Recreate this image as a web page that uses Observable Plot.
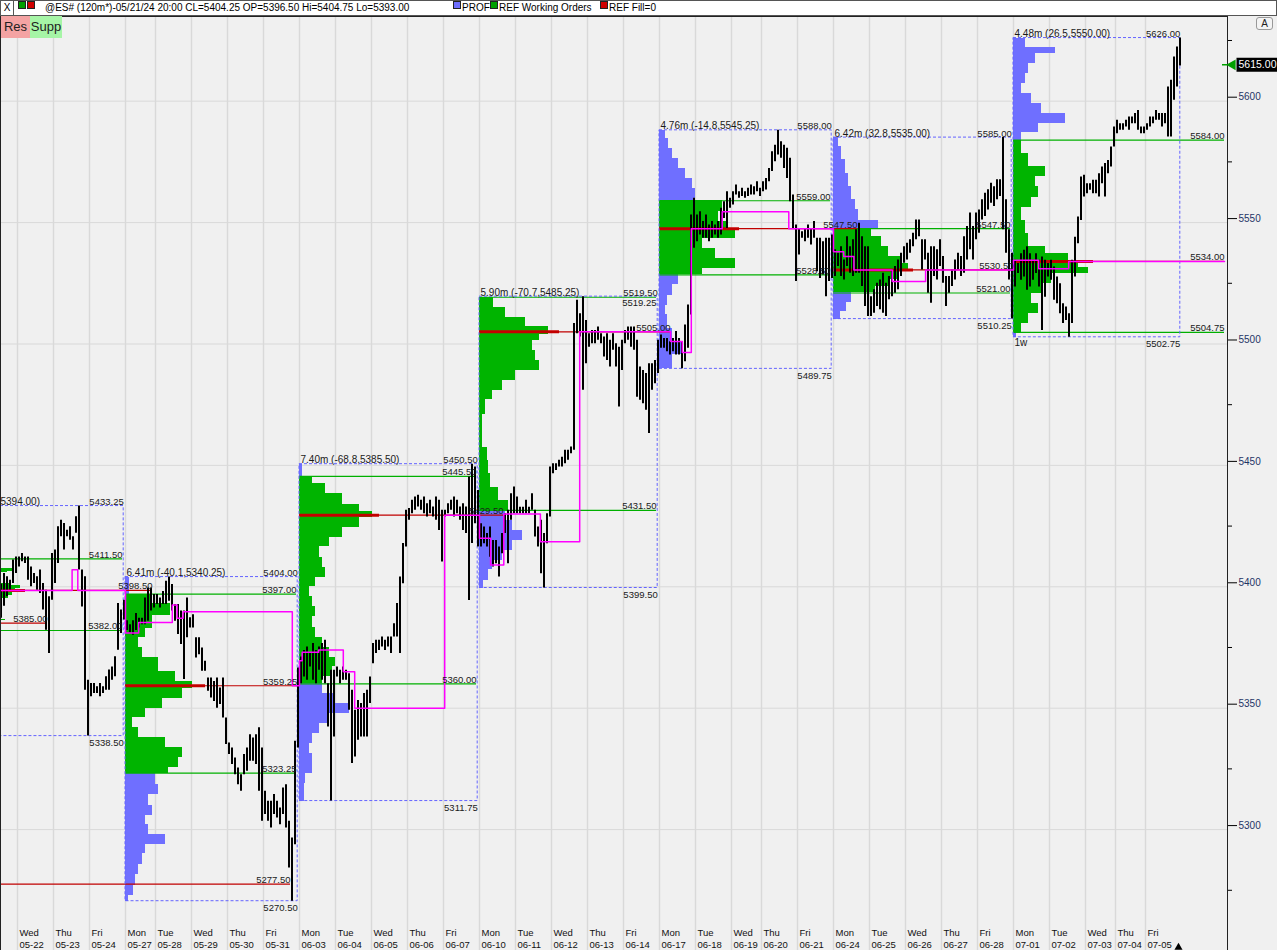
<!DOCTYPE html>
<html>
<head>
<meta charset="utf-8">
<script src="https://cdn.jsdelivr.net/npm/d3@7"></script>
<script src="https://cdn.jsdelivr.net/npm/@observablehq/plot@0.6"></script>
<style>
html,body{margin:0;padding:0;background:#f0f0f0;}
#root{position:relative;width:1277px;height:950px;overflow:hidden;background:#f0f0f0;font-family:"Liberation Sans",Arial,sans-serif;}
#bar{position:absolute;left:0;top:0;width:1275px;height:14px;background:#fff;border:1px solid #555;font-size:10px;line-height:14px;color:#000;white-space:nowrap;}
#bar span{position:absolute;top:0}
.sq{position:absolute;top:3px;width:6px;height:6px;border:1px solid #222}
#chart{position:absolute;left:0;top:16px}
.btn{position:absolute;top:16px;height:22px;line-height:22px;font-size:13px;color:#222;text-align:center}
#abtn{position:absolute;left:1256px;top:17px;width:15px;height:11px;border:1px solid #999;border-radius:3px;font-size:10px;line-height:11px;text-align:center;color:#222;background:#f4f4f4}
</style>
</head>
<body>
<div id="root">
  <div id="bar">
    <span style="left:0;width:12px;height:14px;border-right:1px solid #555;text-align:center">X</span>
    <span class="sq" style="left:17px;background:#00a000"></span>
    <span class="sq" style="left:26px;background:#d00000"></span>
    <span style="left:44px">@ES# (120m*)-05/21/24 20:00 CL=5404.25 OP=5396.50 Hi=5404.75 Lo=5393.00</span>
    <span class="sq" style="left:452px;background:#6f6fff"></span>
    <span style="left:461px">PROF</span>
    <span class="sq" style="left:489px;background:#00a000"></span>
    <span style="left:498px">REF Working Orders</span>
    <span class="sq" style="left:599px;background:#d00000"></span>
    <span style="left:608px">REF Fill=0</span>
  </div>
  <div id="chart"></div>
  <div class="btn" style="left:1px;width:29px;background:#f4a3a3">Res</div>
  <div class="btn" style="left:30px;width:32px;background:#a6f5a6">Supp</div>
  <div id="abtn">A</div>
</div>
<script>
// ---------- calendar (120-minute bars per session) ----------
const dayNames = ["Mon\n05-20","Tue\n05-21","Wed\n05-22","Thu\n05-23","Fri\n05-24",
"Mon\n05-27","Tue\n05-28","Wed\n05-29","Thu\n05-30","Fri\n05-31",
"Mon\n06-03","Tue\n06-04","Wed\n06-05","Thu\n06-06","Fri\n06-07",
"Mon\n06-10","Tue\n06-11","Wed\n06-12","Thu\n06-13","Fri\n06-14",
"Mon\n06-17","Tue\n06-18","Wed\n06-19","Thu\n06-20","Fri\n06-21",
"Mon\n06-24","Tue\n06-25","Wed\n06-26","Thu\n06-27","Fri\n06-28",
"Mon\n07-01","Tue\n07-02","Wed\n07-03","Thu\n07-04","Fri\n07-05"];
const dayBarCount = [12,12,12,12,12, 10,12,12,12,12, 12,12,12,12,12, 12,12,12,12,12,
                     12,12,10,12,12, 12,12,12,12,12, 12,12,10,10,12];

// ---------- price bars [low, high] per 120m bar, one array per session ----------
const hlW0 = [
 [],
 [[5387,5401],[5392,5405.5],[5395.9,5404.1],[5398.6,5402.7],[5401.4,5411],[5405.5,5412.3]],
 [[5408.2,5412.3],[5410.3,5413.7],[5409.6,5412.3],[5402.7,5412.3],[5400,5408.2],[5401.4,5405.5],[5398.6,5404.1],[5397.2,5406.9],[5390.4,5401.4],[5382.1,5398.6],[5372.5,5395.9],[5394.5,5413.7]],
 [[5401.4,5415.1],[5409.6,5424.7],[5420.6,5427.4],[5415.1,5426.1],[5420.6,5423.3],[5419.2,5424.7],[5415.1,5420.6],[5422,5428.8],[5406.9,5433.25],[5391.7,5406.9],[5357.4,5404.1],[5338.5,5361.5]],
 [[5354.7,5360.2],[5356,5360.2],[5356,5358.8],[5354.7,5360.2],[5356,5358.8],[5357.4,5362.9],[5357.4,5365.7],[5361.5,5367],[5362.9,5371.2],[5373.9,5393.1],[5380.8,5390.4],[5386.3,5394.5]]
];
const hlW1 = [
 [[5382,5386],[5381,5384.4],[5380,5386],[5382,5389],[5383,5387],[5384.4,5387],[5384.4,5395.4],[5385.8,5399.5],[5390,5399.5],[5391.3,5396.8]],
 [[5392.7,5396.8],[5391.3,5395.4],[5392.7,5398.1],[5392.7,5402.3],[5394,5404],[5390,5400.9],[5385.8,5392.7],[5380.3,5392.7],[5376.2,5390],[5361.8,5390],[5379,5395.4],[5383,5387.2]],
 [[5383,5388.5],[5370.7,5379],[5372,5379],[5365.2,5374.8],[5365.2,5369.3],[5357,5362.4],[5354.2,5362.4],[5352.8,5361],[5350,5362.4],[5351.5,5358.3],[5346,5362.4],[5335,5346]],
 [[5330.9,5335.7],[5326.8,5333.6],[5322.6,5329.5],[5318.5,5325.4],[5315.8,5322.6],[5322.6,5330.9],[5324,5333.6],[5328.1,5339.1],[5328.1,5337.7],[5326.8,5339.1],[5315.8,5341.9],[5303.4,5333.6]],
 [[5306.2,5315.8],[5303.4,5311.7],[5300.7,5311.7],[5306.2,5314.4],[5304.8,5311.7],[5302,5308.9],[5306.2,5317.1],[5300.7,5318.5],[5284.2,5303.4],[5270.5,5296.5],[5293.8,5336.4],[5333.6,5366.6]]
];
const hlW2 = [
 [[5360.1,5371.1],[5362.8,5373.8],[5361.5,5375.2],[5367,5372.5],[5361.5,5376.6],[5360.1,5373.8],[5365.6,5375.2],[5361.5,5376.6],[5360.1,5378],[5342.2,5360.1],[5311.75,5365.6],[5338.1,5365.6]],
 [[5362.8,5367],[5360.1,5365.6],[5361.5,5367],[5361.5,5365.6],[5349.1,5364.2],[5327.2,5357.4],[5329.9,5349.1],[5336.8,5353.2],[5338.1,5351.9],[5338.1,5356],[5338.1,5357.4],[5351.9,5362.8]],
 [[5368.3,5376.6],[5372.5,5378],[5373.8,5378],[5375.2,5379.3],[5373.8,5378],[5375.2,5379.3],[5372.5,5379.3],[5379.3,5384.8],[5379.3,5393.1],[5372.5,5404],[5401.3,5417.8],[5416.4,5431.5]],
 [[5427.4,5432.2],[5430.1,5435.6],[5431.5,5437],[5432.9,5437.7],[5431.5,5435.6],[5430.1,5437],[5428.7,5434.2],[5430.1,5435.6],[5428.7,5432.9],[5427.4,5437],[5423.2,5435.6],[5410.2,5431.5]],
 [[5428.7,5431.5],[5430.1,5434.2],[5431.5,5435.6],[5428.7,5437],[5430.1,5435.6],[5427.4,5432.9],[5423.2,5434.2],[5421.9,5432.9],[5394.4,5445.2],[5417.8,5450.5],[5426,5449.3],[5416.4,5439.7]]
];
const hlW3 = [
 [[5416.4,5426],[5417.7,5424.6],[5416.4,5421.9],[5412.2,5424.6],[5408.1,5419.1],[5409.5,5419.1],[5404,5416.4],[5413.6,5421.9],[5421.9,5430.1],[5409.5,5431.5],[5427.4,5438.3],[5430.1,5441.1]],
 [[5430.1,5437],[5430.1,5432.8],[5430.1,5432.8],[5430.1,5435.6],[5430.1,5432.8],[5431.5,5438.3],[5420.5,5431.5],[5416.4,5424.6],[5405.4,5427.4],[5399.5,5421.9],[5417.7,5430.1],[5428.7,5449.3]],
 [[5446.6,5450.7],[5447.9,5450.7],[5449.3,5452.1],[5449.3,5453.4],[5450.7,5456.2],[5452.1,5456.2],[5454.8,5457.6],[5456.2,5508.4],[5504.2,5518],[5502.9,5512.5],[5480.9,5519.5],[5491.9,5509.7]],
 [[5498.7,5504.2],[5500.1,5505.6],[5500.1,5505.6],[5501.5,5507],[5500.1,5504.2],[5494.6,5502.9],[5493.2,5504.2],[5490.5,5501.5],[5497.4,5504.2],[5490.5,5500.1],[5474,5498.7],[5489.1,5501.5]],
 [[5500.1,5505.6],[5501.5,5507],[5498.7,5507],[5497.4,5507],[5478.1,5501.5],[5476.8,5490.5],[5475.4,5489.1],[5472.7,5487.8],[5463.1,5491.9],[5480.9,5491.9],[5483.6,5493.2],[5487.8,5501.5]]
];
const hlW4 = [
 [[5498.2,5503.7],[5498.2,5502.3],[5496.8,5502.3],[5495.5,5500.9],[5496.8,5502.3],[5495.5,5505.1],[5495.5,5502.3],[5489.75,5500.9],[5492.7,5507.8],[5498.2,5516.1],[5511.9,5553.1],[5539.4,5560]],
 [[5542.1,5553.1],[5544.9,5554.5],[5543.5,5550.4],[5543.5,5553.1],[5542.1,5549],[5543.5,5550.4],[5544.9,5549],[5543.5,5550.4],[5544.9,5555.9],[5551.7,5558.6],[5547.6,5562.7],[5555.9,5560]],
 [[5557.2,5562.7],[5561.4,5565.5],[5560,5562.7],[5560.7,5564.1],[5560,5562.7],[5560.7,5564.1],[5561.4,5565.5],[5561.4,5564.8],[5562.7,5566.8],[5560.7,5564.1]],
 [[5562.7,5566.8],[5563.4,5568.2],[5566.8,5572.3],[5571,5579.2],[5575.1,5581.9],[5577.8,5588],[5576.5,5583.3],[5572.3,5581.9],[5568.2,5580.6],[5558.6,5576.5],[5547.6,5561.4],[5525.7,5549]],
 [[5536.6,5547.6],[5543.5,5546.2],[5542.1,5547.6],[5543.5,5549],[5540.8,5547.6],[5543.5,5550.4],[5529.8,5543.5],[5527,5543.5],[5528.4,5542.1],[5519.5,5543.5],[5525.7,5543.5],[5527,5544.9]]
];
const hlW5 = [
 [[5527.8,5538.8],[5531.9,5537.4],[5527.8,5540.1],[5526.4,5534.6],[5531.9,5544.2],[5529.1,5540.1],[5527.8,5542.9],[5529.1,5547],[5529.1,5549.7],[5523.7,5544.2],[5515.4,5540.1],[5511.3,5540.1]],
 [[5511.3,5519.5],[5512.7,5522.3],[5515.4,5525],[5514.1,5526.4],[5512.7,5529.1],[5511.3,5525],[5518.2,5527.8],[5519.5,5530.5],[5520.9,5531.9],[5522.3,5534.6],[5527.8,5537.4],[5533.3,5540.1]],
 [[5534.6,5541.5],[5537.4,5542.9],[5540.1,5545.6],[5542.9,5551.1],[5544.2,5551.1],[5530.5,5542.9],[5534.6,5542.9],[5520.9,5537.4],[5516.8,5540.1],[5527.8,5540.1],[5526.4,5538.8],[5531.9,5542.9]],
 [[5525,5536],[5515.4,5527.8],[5520.9,5527.8],[5523.7,5530.5],[5526.4,5534.6],[5530.5,5537.4],[5527.8,5536],[5529.1,5544.2],[5534.6,5548.4],[5538.8,5553.9],[5534.6,5548.4],[5542.9,5553.9]],
 [[5545.6,5555.2],[5551.1,5559.4],[5552.5,5562.1],[5555.2,5563.5],[5558,5566.2],[5556.6,5564.8],[5559.4,5567.6],[5560.7,5567.6],[5547,5585],[5537.4,5559.4],[5526.4,5547],[5510.25,5537.4]]
];
const hlW6 = [
 [[5523.5,5534.5],[5529,5533.1],[5526.2,5537.2],[5527.6,5538.6],[5522.1,5540],[5523.5,5537.2],[5526.2,5534.5],[5529,5537.2],[5523.5,5534.5],[5505.6,5535.8],[5519.3,5534.5],[5527.6,5533.1]],
 [[5526.2,5534.5],[5518,5531.7],[5516.6,5527.6],[5512.5,5524.8],[5508.4,5516.6],[5509.7,5515.2],[5502.75,5512.5],[5508.4,5534.5],[5527.6,5544],[5541.3,5552.3],[5550.9,5568.8],[5560.5,5569.5]],
 [[5561.9,5566],[5563.3,5566],[5561.9,5567.4],[5561.9,5567.4],[5560.5,5570.1],[5566,5572.9],[5560.5,5574.3],[5570.1,5575.6],[5572.9,5581.1],[5581.1,5589.4]],
 [[5586.6,5592.1],[5588,5590.7],[5588,5590.7],[5589.4,5592.1],[5588,5593.5],[5590.7,5593.5],[5590.7,5594.9],[5588,5596.2],[5586.6,5589.4],[5586.6,5589.4]],
 [[5588,5590.7],[5589.4,5593.5],[5590.7,5593.5],[5592.1,5596.2],[5592.1,5594.9],[5589.4,5594.9],[5590.7,5594.9],[5585.2,5605.8],[5585.2,5608.6],[5600.4,5618.2],[5605.8,5622.3],[5614.5,5626]]
];

// ---------- weekly volume profiles [low, high, volume] ----------
const profW0 = [[5386,5386.7,60],[5395.2,5396.4,63],[5396.4,5398.5,67],[5398.5,5399.3,70],[5399.3,5400.5,75],[5400.5,5401.3,65],[5405.8,5406.3,62],[5406.3,5407.5,68]];
const profW1 = [[5270.5,5273,3],[5273,5277,8],[5277,5281.5,10],[5281.5,5285.5,13],[5285.5,5290,17],[5290,5294,20],[5294,5298,40],[5298,5302,23],[5302,5306,20],[5306,5310,27],[5310,5314.5,23],[5314.5,5318.5,33],[5318.5,5323.25,30],
 [5323.25,5325.5,43],[5325.5,5329.5,53],[5329.5,5334,57],[5334,5338,40],[5338,5342,13],[5342,5346,7],[5346,5350,20],[5350,5354,37],[5354,5358,57],[5358,5361,67],[5361,5365,50],[5365,5371,33],[5371,5375,17],[5375,5379,13],[5379,5383,20],[5383,5388,27],[5388,5393,45],[5393,5397,25],
 [5397,5404,4]];
const profW2 = [[5311.75,5319,5],[5319,5323,6],[5323,5327,13],[5327,5331.3,13],[5331.3,5335.4,10],[5335.4,5339.5,13],[5339.5,5343.6,20],[5343.6,5347.7,30],[5347.7,5352,50],[5352,5356,36],[5356,5360,23],
 [5360,5363,23],[5363,5367,33],[5367,5371,36],[5371,5375,30],[5375,5379.3,23],[5379.3,5383.4,16],[5383.4,5387.6,13],[5387.6,5391.7,16],[5391.7,5395.8,13],[5395.8,5400,10],[5400,5404,16],[5404,5408,26],[5408,5412,23],[5412,5416.5,20],[5416.5,5420.5,30],[5420.5,5424.5,43],[5424.5,5428.5,60],[5428.5,5431,73],[5431,5434,60],[5434,5438.5,43],[5438.5,5442.5,26],[5442.5,5445.5,13],
 [5445.5,5450.5,3]];
const profW3 = [[5399.5,5402.5,4],[5402.5,5407,9],[5407,5411,13],[5411,5415,23],[5415,5419,33],[5419,5423,43],[5423,5427.5,33],[5427.5,5431.5,26],
 [5431.5,5435.5,29],[5435.5,5441,19],[5441,5446.5,11],[5446.5,5452,9],[5452,5457.5,8],[5457.5,5471,3],[5471,5477,6],[5477,5481,13],[5481,5485,23],[5485,5489,36],[5489,5493,60],[5493,5497.5,56],[5497.5,5501.5,53],[5501.5,5504,60],[5504,5507,69],[5507,5511,46],[5511,5515,26],[5515,5519.25,14]];
const profW4 = [[5489.75,5495.5,13],[5495.5,5501,23],[5501,5506.5,13],[5506.5,5512,8],[5512,5516,6],[5516,5520,8],[5520,5524.3,13],[5524.3,5528.5,19],
 [5528.5,5531,43],[5531,5535.3,76],[5535.3,5539.4,56],[5539.4,5543.5,43],[5543.5,5547,76],[5547,5550.5,69],[5550.5,5554.5,59],[5554.5,5559,63],
 [5559,5564,36],[5564,5568,33],[5568,5572.3,26],[5572.3,5576.5,19],[5576.5,5580.6,13],[5580.6,5584.7,9],[5584.7,5588,6]];
const profW5 = [[5510.25,5513.4,7],[5513.4,5517,13],[5517,5521,18],
 [5521,5523.7,42],[5523.7,5526.4,55],[5526.4,5529.8,65],[5529.8,5533.3,75],[5533.3,5536,68],[5536,5540,55],[5540,5544.3,48],[5544.3,5547.5,38],
 [5547.5,5551,45],[5551,5555.2,25],[5555.2,5559.4,22],[5559.4,5564.8,18],[5564.8,5570.3,15],[5570.3,5575.8,12],[5575.8,5581.3,8],[5581.3,5585,5]];
const profW6 = [[5502.75,5504.75,3],
 [5504.75,5508.4,8],[5508.4,5512.5,15],[5512.5,5516.6,25],[5516.6,5520.7,18],[5520.7,5524.8,28],[5524.8,5529,38],[5529,5531.7,75],[5531.7,5534.5,65],[5534.5,5537.2,55],[5537.2,5540,32],[5540,5545.4,15],[5545.4,5551,12],[5551,5556.4,8],[5556.4,5560.5,18],[5560.5,5564.7,25],[5564.7,5568.8,22],[5568.8,5573,32],[5573,5578.4,15],[5578.4,5584,8],
 [5584,5587,8],[5587,5590.7,25],[5590.7,5595,52],[5595,5599,28],[5599,5603,18],[5603,5607.2,8],[5607.2,5611.3,12],[5611.3,5615.5,15],[5615.5,5619.6,22],[5619.6,5622.3,42],[5622.3,5626,12]];

// ---------- weekly statistics ----------
const weekLabel = ["5394.00)","6.41m (-40.1,5340.25)","7.40m (-68.8,5385.50)","5.90m (-70.7,5485.25)","4.76m (-14.8,5545.25)","6.42m (32.8,5535.00)","4.48m (26.5,5550.00)"];
const weekHigh = [5433.25,5404.00,5450.50,5519.50,5588.00,5585.00,5626.00];
const weekLow  = [5338.50,5270.50,5311.75,5399.50,5489.75,5510.25,5502.75];
const weekVAH  = [5411.50,5397.00,5445.50,5519.25,5559.00,5547.50,5584.00];
const weekVAL  = [5382.00,5323.25,5360.00,5431.50,5528.50,5521.00,5504.75];
const weekPOC  = [5398.50,5359.25,5429.50,5505.00,5547.50,5530.50,5534.00];
const pocVolume = 80;
// bar (120m slot, 0 = Wed 05-22 open) at which each naked POC was traded through
const weekPocEnd = [45, 93.3, 162, 217.7, 280, 332, null];
const olderPocs = [{price:5385.00, end:10},{price:5277.50, end:91}];

// developing POC ("REF Working Orders") steps: [bar, price]
const devPoc = [
 [-6,5398.50],[18.2,5407.00],[20.1,5398.50],
 [36,5381.00],[40.4,5385.25],[51.6,5392.50],[53.2,5387.00],[55.2,5389.75],[91.6,5359.25],
 [94,5369.50],[94.9,5373.00],[100.4,5374.00],[108.6,5365.00],[112.4,5350.00],[142.4,5429.50],
 [154,5420.00],[157.7,5409.00],[162.1,5430.00],[174.3,5418.50],[187.4,5505.00],
 [214,5505.00],[217.7,5501.00],[221.6,5496.50],[224.6,5547.50],[234.9,5554.50],[257.1,5547.50],
 [272,5538.00],[275.4,5536.00],[278.8,5530.50],[291.6,5525.75],[302.7,5530.50],
 [332,5534.50],[340.4,5531.00],[350.4,5534.00]
];
const lastPrice = 5615.00;
const yTicks = [5300,5350,5400,5450,5500,5550,5600];
const yMinor = [5275,5325,5375,5425,5475,5525,5575,5625];

// ---------- derived ----------
const dayStart = [];
{ let s = -(dayBarCount[0] + dayBarCount[1]); for (const n of dayBarCount) { dayStart.push(s); s += n; } }
const lastBarEnd = dayStart[34] + dayBarCount[34];
const xDomain = [-17/3, 1210/3];
const rightEdge = xDomain[1] - 1;
const days = dayNames.map((name, i) => ({name, start: dayStart[i]}));

const hlWeeks = [hlW0, hlW1, hlW2, hlW3, hlW4, hlW5, hlW6];
const bars = [];
hlWeeks.forEach((wk, w) => wk.forEach((day, j) => {
  const di = w * 5 + j, s = dayStart[di], L = dayBarCount[di], n = day.length;
  day.forEach(([lo, hi], i) => {
    const x = (di === 1) ? s + (L - n) + i + 0.5 : s + (i + 0.5) * L / n;
    bars.push({x, lo, hi});
  });
}));

const weeks = weekHigh.map((h, w) => {
  const start = dayStart[w * 5];
  const end = w < 6 ? dayStart[(w + 1) * 5] - 0.6 : lastBarEnd - 0.4;
  return {w, start, end, high: h, low: weekLow[w], vah: weekVAH[w], val: weekVAL[w], poc: weekPOC[w],
          label: weekLabel[w], vaEnd: w < 6 ? end - 0.4 : rightEdge,
          pocEnd: weekPocEnd[w] == null ? rightEdge : weekPocEnd[w]};
});
const volPerBar = 3; // volume units per bar slot width
const profiles = [profW0, profW1, profW2, profW3, profW4, profW5, profW6];
const rows = profiles.flatMap((rs, w) => rs.map(([lo, hi, v]) => ({
  x1: weeks[w].start, x2: weeks[w].start + v / volPerBar, lo, hi,
  fill: (lo >= weekVAL[w] - 0.01 && hi <= weekVAH[w] + 0.01) ? "#00b400" : "#6f6fff"})));

const pocLines = weeks.map(d => ({price: d.poc, start: d.start, end: d.pocEnd}))
  .concat(olderPocs.map(d => ({price: d.price, start: -40, end: d.end})));
// a value-area label that would collide with the week-high label is placed under its line
const vaLines = weeks.flatMap(d => [
  {price: d.vah, start: d.start, end: d.vaEnd, below: Math.abs(d.high - d.vah) < 2},
  {price: d.val, start: d.start, end: d.vaEnd, below: false}]);
const magenta = devPoc.concat([[rightEdge, devPoc[devPoc.length - 1][1]]]);

const fmt = d3.format(".2f");
const txt = "#1a1a1a";
const fs = 9.5;
const boxSym = {draw(ctx) { ctx.moveTo(-21, -7); ctx.lineTo(21, -7); ctx.lineTo(21, 7); ctx.lineTo(-21, 7); ctx.closePath(); }};
const dashSym = {draw(ctx) { ctx.moveTo(-2.5, 0); ctx.lineTo(2.5, 0); }};

const chart = Plot.plot({
  width: 1277, height: 934,
  marginLeft: 0, marginRight: 50, marginTop: 0, marginBottom: 0,
  x: {domain: xDomain, axis: null},
  y: {domain: [5250.2, 5634.88], axis: null},
  style: {background: "transparent", overflow: "hidden", fontFamily: "Liberation Sans, Arial, sans-serif", fontSize: "9px"},
  marks: [
    Plot.ruleY(yTicks, {stroke: "#d9d9d9"}),
    Plot.ruleX(days, {x: "start", stroke: "#d9d9d9", strokeWidth: 1.5}),
    Plot.rect(rows, {x1: "x1", x2: "x2", y1: "lo", y2: "hi", fill: "fill", shapeRendering: "crispEdges"}),
    Plot.ruleY(weeks, {y: "poc", x1: "start", x2: d => d.start + pocVolume / volPerBar, stroke: "#c80000", strokeWidth: 3}),
    Plot.ruleY(vaLines, {y: "price", x1: "start", x2: "end", stroke: "#00b000", strokeWidth: 1.2}),
    Plot.ruleY(pocLines, {y: "price", x1: "start", x2: "end", stroke: "#c00000", strokeWidth: 1.2}),
    Plot.rect(weeks, {x1: "start", x2: "end", y1: "low", y2: "high", fill: "none", stroke: "#6464ff", strokeDasharray: "3,2"}),
    Plot.ruleX(bars, {x: "x", y1: "lo", y2: "hi", stroke: "#000", strokeWidth: 2}),
    Plot.line(magenta, {x: d => d[0], y: d => d[1], curve: "step-after", stroke: "#ff00ff", strokeWidth: 1.5}),
    // labels
    Plot.text(weeks.filter(d => d.w > 0), {x: "start", y: "high", text: "label", textAnchor: "start", lineAnchor: "bottom", dx: 1, dy: -1, fill: txt, fontSize: 10}),
    Plot.text(weeks.filter(d => d.w === 0), {y: "high", text: "label", frameAnchor: "left", textAnchor: "start", lineAnchor: "bottom", dy: -1, fill: txt, fontSize: 10}),
    Plot.text(weeks.filter(d => d.w === 6), {x: "start", y: "low", text: () => "1w", textAnchor: "start", lineAnchor: "top", dx: 1, dy: 2, fill: txt, fontSize: 10}),
    Plot.text(weeks, {x: "end", y: "high", text: d => fmt(d.high), textAnchor: "end", lineAnchor: "bottom", dy: -1, fill: txt, fontSize: fs}),
    Plot.text(weeks, {x: "end", y: "low", text: d => fmt(d.low), textAnchor: "end", lineAnchor: "top", dy: 3, fill: txt, fontSize: fs}),
    Plot.text(vaLines.filter(d => !d.below), {x: "end", y: "price", text: d => fmt(d.price), textAnchor: "end", lineAnchor: "bottom", dy: -1, fill: txt, fontSize: fs}),
    Plot.text(vaLines.filter(d => d.below), {x: "end", y: "price", text: d => fmt(d.price), textAnchor: "end", lineAnchor: "top", dy: 2, fill: txt, fontSize: fs}),
    Plot.text(pocLines, {x: "end", y: "price", text: d => fmt(d.price), textAnchor: "end", lineAnchor: "bottom", dy: -1, fill: txt, fontSize: fs}),
    Plot.text(days.filter(d => d.start >= 0), {x: "start", text: "name", frameAnchor: "bottom", textAnchor: "start", lineAnchor: "bottom", dx: 2, dy: -3, fill: "#111", fontSize: 9.5, lineHeight: 1.2}),
    // frame & axis
    Plot.frame({stroke: "#222"}),
    Plot.axisY({anchor: "right", ticks: yTicks, tickSize: 9, tickPadding: 2, tickFormat: d => String(d), dy: -4, fill: "#1f3566", stroke: "#000", fontSize: 10}),
    Plot.axisY({anchor: "right", ticks: yMinor, tickSize: 4, tickFormat: () => "", stroke: "#000"}),
    // last price marker
    Plot.dot([lastPrice], {y: d => d, frameAnchor: "right", dx: -3, symbol: dashSym, stroke: "#00a000", strokeWidth: 1.5}),
    Plot.dot([lastPrice], {y: d => d, frameAnchor: "right", dx: 5, symbol: "triangle", rotate: -90, r: 4, fill: "#00a000", stroke: "none"}),
    Plot.dot([lastPrice], {y: d => d, frameAnchor: "right", dx: 30, symbol: boxSym, fill: "#000", stroke: "none"}),
    Plot.text([lastPrice], {y: d => d, text: d => fmt(d), frameAnchor: "right", dx: 30, textAnchor: "middle", fill: "#fff", fontSize: 10.5}),
    Plot.dot([lastBarEnd - 1], {x: d => d, frameAnchor: "bottom", dy: -3, symbol: "triangle", r: 3, fill: "#000", stroke: "none"})
  ]
});
document.getElementById("chart").appendChild(chart);
</script>
</body>
</html>
